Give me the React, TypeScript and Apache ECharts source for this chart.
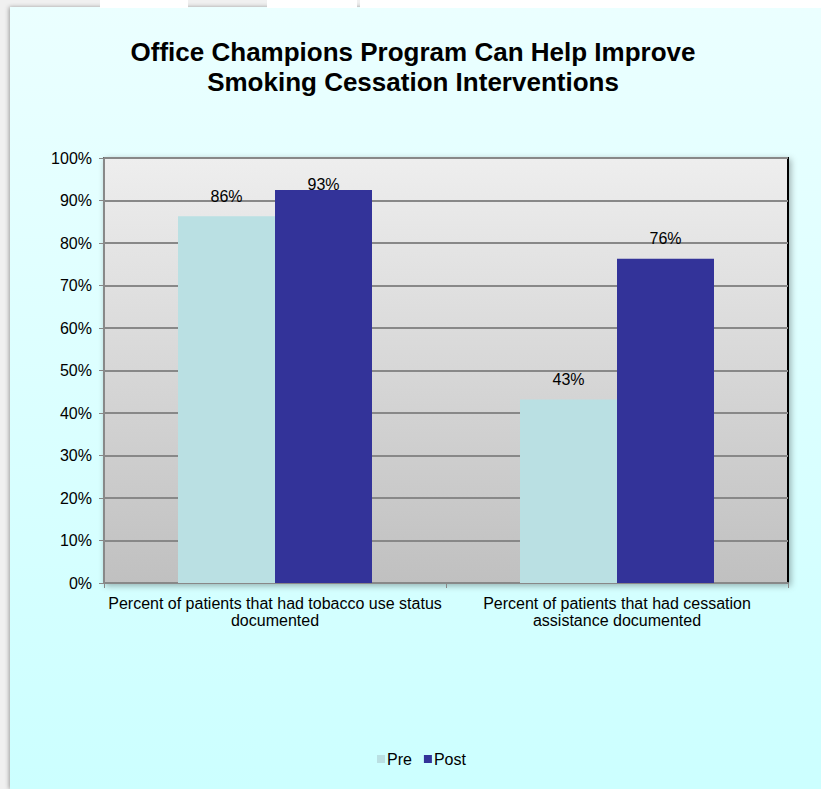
import React, { useEffect, useRef } from "react";
import * as echarts from "echarts";

const categories = [
  "Percent of patients that had tobacco use status\ndocumented",
  "Percent of patients that had cessation\nassistance documented",
];
const seriesNames = ["Pre", "Post"];
const preValues = [86.3, 43.2];
const postValues = [92.5, 76.3];
const yTicks = [0, 10, 20, 30, 40, 50, 60, 70, 80, 90, 100];
const titleLines = ["Office Champions Program Can Help Improve", "Smoking Cessation Interventions"];

export default function App() {
  const ref = useRef<HTMLDivElement>(null);
  useEffect(() => {
    document.body.style.margin = "0";
    const chart = echarts.init(ref.current!, null, { renderer: "svg" });
    const font = "Liberation Sans, Arial, sans-serif";
    const labelFmt = (p: any) => Math.round(p.value) + "%";
    const mkData = (vals: number[]) =>
      vals.map((v) =>
        v > 90
          ? { value: v, label: { position: "insideTop", distance: -13 } }
          : { value: v }
      );
    chart.setOption({
      animation: false,
      backgroundColor: "#F0F0F0",
      graphic: [
        { type: "rect", shape: { x: 100, y: 0, width: 88, height: 8 }, style: { fill: "#ffffff" }, silent: true },
        { type: "rect", shape: { x: 267, y: 0, width: 90, height: 8 }, style: { fill: "#ffffff" }, silent: true },
        { type: "rect", shape: { x: 360, y: 0, width: 461, height: 8 }, style: { fill: "#ffffff" }, silent: true },
        {
          type: "rect",
          z: -10,
          shape: { x: 10, y: 7, width: 811, height: 782 },
          style: {
            fill: new echarts.graphic.LinearGradient(0, 0, 0, 1, [
              { offset: 0, color: "#EBFFFF" },
              { offset: 1, color: "#CCFFFF" },
            ]),
            shadowBlur: 4,
            shadowColor: "rgba(0,0,0,0.35)",
            shadowOffsetX: -1,
          },
          silent: true,
        },
      ],
      title: {
        text: titleLines.join("\n"),
        left: 408,
        textAlign: "center",
        top: 32,
        textStyle: { fontFamily: font, fontSize: 26, fontWeight: "bold", color: "#000", lineHeight: 30 },
      },
      legend: {
        data: seriesNames,
        top: 746,
        left: 372,
        itemWidth: 8,
        itemHeight: 8,
        itemGap: 12,
        textStyle: { fontFamily: font, fontSize: 16, color: "#000", padding: [0, 0, 0, -3] },
        icon: "rect",
      },
      grid: {
        left: 104,
        right: 33,
        top: 158,
        bottom: 206,
        show: true,
        borderColor: "#000",
        borderWidth: 2,
        backgroundColor: new echarts.graphic.LinearGradient(0, 0, 0, 1, [
          { offset: 0, color: "#EEEEEE" },
          { offset: 1, color: "#C0C0C0" },
        ]),
        shadowBlur: 6,
        shadowColor: "rgba(0,0,0,0.3)",
        shadowOffsetX: 2,
        shadowOffsetY: 2,
      },
      xAxis: {
        type: "category",
        data: categories,
        axisLine: { show: true, lineStyle: { color: "#888", width: 2 } },
        axisTick: { show: true, length: 5, lineStyle: { color: "#888" } },
        axisLabel: { interval: 0, fontFamily: font, fontSize: 16, color: "#000", margin: 12, lineHeight: 17 },
      },
      yAxis: {
        type: "value",
        min: 0,
        max: 100,
        interval: 10,
        axisLine: { show: true, lineStyle: { color: "#888", width: 2 } },
        axisTick: { show: true, length: 5, lineStyle: { color: "#888" } },
        axisLabel: {
          fontFamily: font,
          fontSize: 16,
          color: "#000",
          margin: 12,
          formatter: (v: number) => (yTicks.includes(v) ? v + "%" : ""),
        },
        splitLine: { show: true, lineStyle: { color: "#888", width: 2 } },
      },
      series: [
        {
          name: seriesNames[0],
          type: "bar",
          data: mkData(preValues),
          barWidth: 97,
          barGap: "0%",
          itemStyle: { color: "#BAE0E3" },
          label: { show: true, position: "top", distance: 12, formatter: labelFmt, fontFamily: font, fontSize: 16, color: "#000" },
        },
        {
          name: seriesNames[1],
          type: "bar",
          data: mkData(postValues),
          barWidth: 97,
          barGap: "0%",
          itemStyle: { color: "#333399" },
          label: { show: true, position: "top", distance: 12, formatter: labelFmt, fontFamily: font, fontSize: 16, color: "#000" },
        },
      ],
    });
    return () => chart.dispose();
  }, []);
  return <div ref={ref} style={{ position: "fixed", left: 0, top: 0, width: 821, height: 789 }} />;
}
